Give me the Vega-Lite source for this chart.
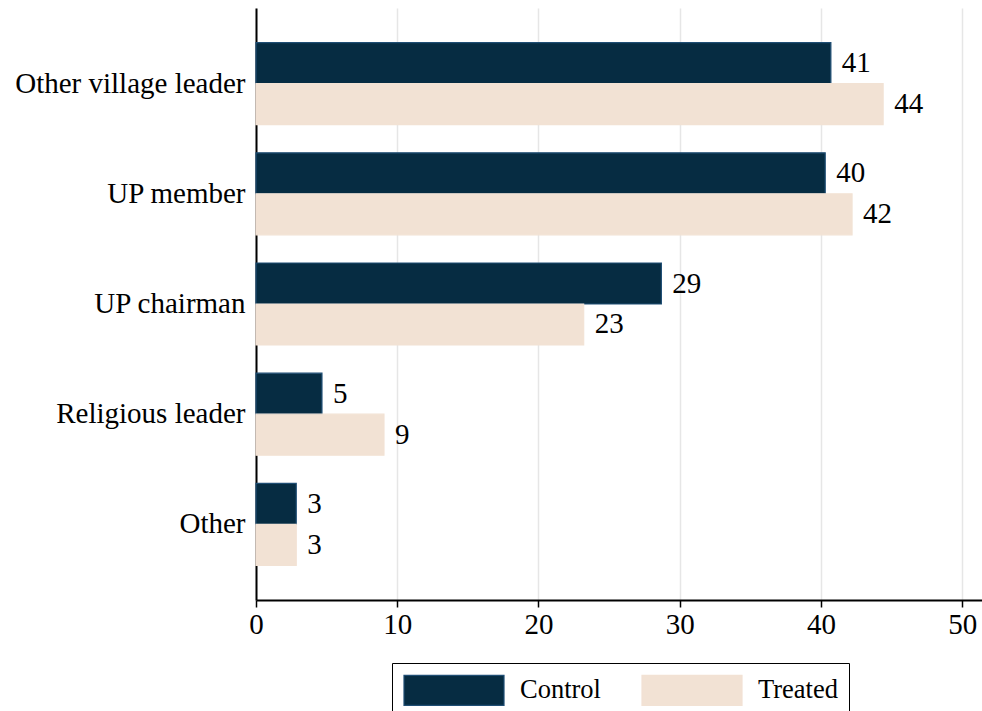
{
  "$schema": "https://vega.github.io/schema/vega-lite/v6.json",
  "autosize": {"type": "none"},
  "padding": {"left": 256, "top": 8, "right": 0, "bottom": 111},
  "width": 726,
  "height": 592,
  "background": "white",
  "config": {
    "view": {"stroke": null},
    "font": "Liberation Serif",
    "axis": {"labelFont": "Liberation Serif", "labelColor": "black", "domainColor": "black", "tickColor": "black"}
  },
  "data": {
    "values": [
      {"cat": "Other village leader", "group": "Control", "value": 40.7},
      {"cat": "Other village leader", "group": "Treated", "value": 44.4},
      {"cat": "UP member", "group": "Control", "value": 40.3},
      {"cat": "UP member", "group": "Treated", "value": 42.2},
      {"cat": "UP chairman", "group": "Control", "value": 28.7},
      {"cat": "UP chairman", "group": "Treated", "value": 23.2},
      {"cat": "Religious leader", "group": "Control", "value": 4.67},
      {"cat": "Religious leader", "group": "Treated", "value": 9.06},
      {"cat": "Other", "group": "Control", "value": 2.85},
      {"cat": "Other", "group": "Treated", "value": 2.85}
    ]
  },
  "encoding": {
    "y": {
      "field": "cat", "type": "nominal", "sort": null, "title": null,
      "scale": {"paddingInner": 0, "paddingOuter": 0.186},
      "axis": {"ticks": false, "labelFontSize": 29, "labelPadding": 11, "labelLimit": 400, "domainWidth": 2, "grid": false}
    },
    "yOffset": {
      "field": "group", "type": "nominal", "sort": ["Control", "Treated"],
      "scale": {"paddingInner": 0, "paddingOuter": 0.344}
    },
    "x": {
      "field": "value", "type": "quantitative", "title": null,
      "scale": {"domain": [0, 51.4], "nice": false, "zero": true},
      "axis": {"values": [0, 10, 20, 30, 40, 50], "labelFontSize": 29, "tickSize": 7, "labelPadding": 3, "domainWidth": 2, "tickWidth": 1.5, "grid": true, "gridColor": "#e6e6e6", "gridWidth": 1.5, "labelFlush": false}
    }
  },
  "layer": [
    {
      "mark": {"type": "bar", "strokeWidth": 1.2},
      "encoding": {
        "fill": {
          "field": "group", "type": "nominal",
          "scale": {"domain": ["Control", "Treated"], "range": ["#062c42", "#f2e2d4"]},
          "legend": {
            "title": null, "orient": "none", "legendX": 136, "legendY": 655,
            "direction": "horizontal", "columns": 2,
            "labelFont": "Liberation Serif", "labelFontSize": 26.5, "labelColor": "black",
            "labelOffset": 85, "columnPadding": 38,
            "symbolType": "M-1,-1H5.667V1H-1Z", "symbolSize": 900, "symbolStrokeWidth": 1.2,
            "strokeColor": "black", "padding": 11, "fillColor": "white",
            "symbolOpacity": 1
          }
        },
        "stroke": {
          "field": "group", "type": "nominal",
          "scale": {"domain": ["Control", "Treated"], "range": ["#1f4e74", "#f2e2d4"]},
          "legend": {
            "title": null, "orient": "none", "legendX": 136, "legendY": 655,
            "direction": "horizontal", "columns": 2,
            "labelFont": "Liberation Serif", "labelFontSize": 26.5, "labelColor": "black",
            "labelOffset": 85, "columnPadding": 38,
            "symbolType": "M-1,-1H5.667V1H-1Z", "symbolSize": 900, "symbolStrokeWidth": 1.2,
            "strokeColor": "black", "padding": 11, "fillColor": "white",
            "symbolOpacity": 1
          }
        }
      }
    },
    {
      "mark": {"type": "text", "align": "left", "baseline": "middle", "dx": 11, "fontSize": 29, "font": "Liberation Serif", "color": "black"},
      "encoding": {
        "text": {"field": "value", "type": "quantitative", "format": ".0f"}
      }
    }
  ]
}
